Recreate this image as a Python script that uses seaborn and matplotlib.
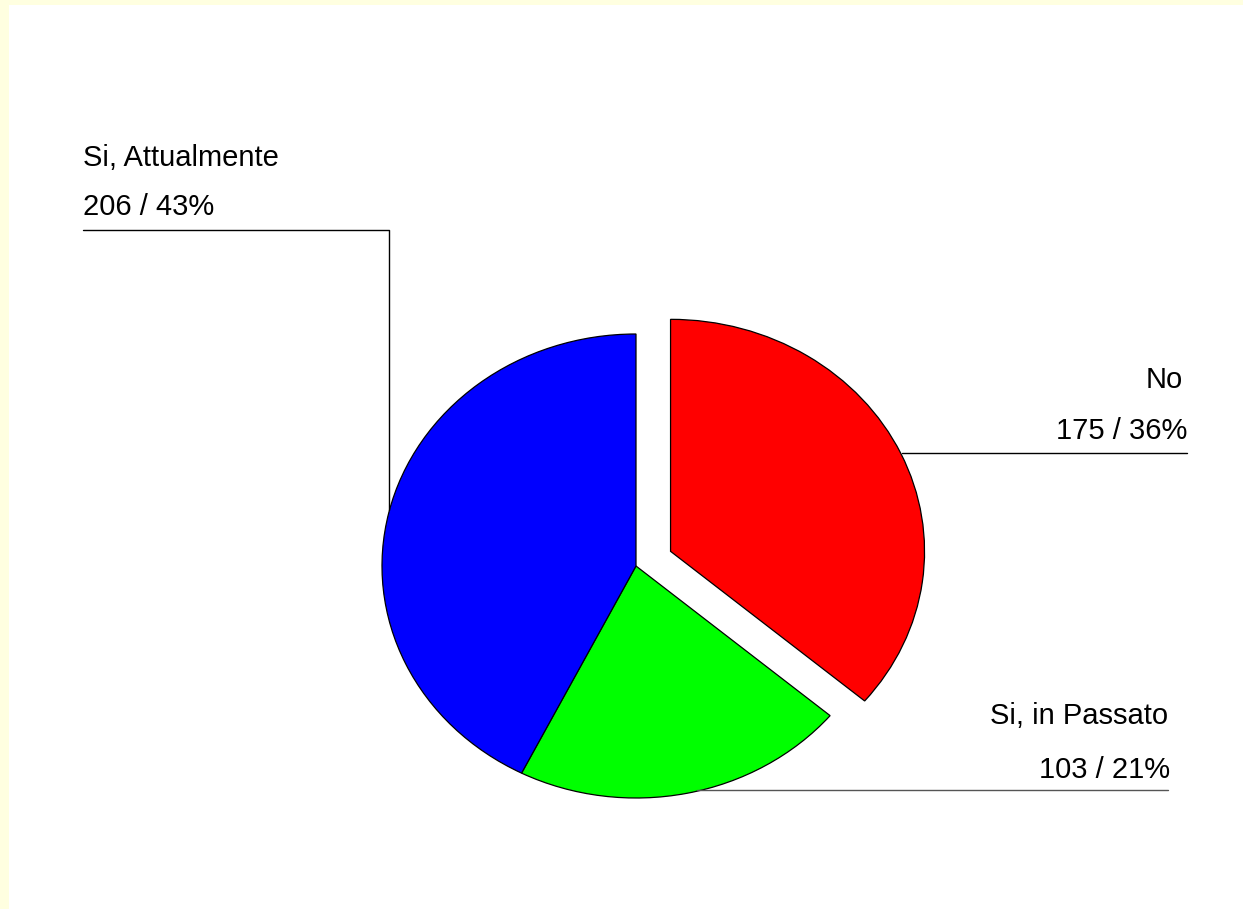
import matplotlib
matplotlib.use('Agg')
import matplotlib.pyplot as plt
from matplotlib.lines import Line2D
from matplotlib.patches import Rectangle
import seaborn as sns

# Data
categories = ['No', 'Si, in Passato', 'Si, Attualmente']
counts = [175, 103, 206]
percents = [36, 21, 43]
colors = ['#FF0000', '#00FF00', '#0000FF']
explode = [0.15, 0, 0]

sns.set_theme(style='white')
plt.rcParams['font.family'] = ['Liberation Sans', 'DejaVu Sans']
plt.rcParams['text.color'] = 'black'

W, H = 1243, 909
fig = plt.figure(figsize=(W / 100, H / 100), dpi=100)
fig.patch.set_facecolor('#FFFFE0')

# white plot area inside the pale yellow frame (left/top)
left_px, top_px = 9, 5
fig.patches.append(Rectangle((left_px / W, 0), 1 - left_px / W, 1 - top_px / H,
                             transform=fig.transFigure, facecolor='white',
                             edgecolor='none', zorder=-5))

ax = fig.add_axes([left_px / W, 0, 1 - left_px / W, 1 - top_px / H])
ax.pie(counts, colors=colors, explode=explode, startangle=90, counterclock=False,
       wedgeprops=dict(edgecolor='black', linewidth=0.9))

# slightly elliptical pie: separate x / y scale
cx, cy = 636, 566       # pie centre (px, from top-left)
rx, ry = 254, 232       # radii in px
aw, ah = W - left_px, H - top_px
ax.set_aspect('auto')
ax.set_xlim(-(cx - left_px) / rx, (aw - (cx - left_px)) / rx)
ax.set_ylim(-(H - cy) / ry, (ah - (H - cy)) / ry)
ax.axis('off')


def fx(x):
    return x / W


def fy(y):
    return 1 - y / H


fs = 21
# Si, Attualmente
fig.text(fx(83), fy(166), f'{categories[2]}', fontsize=fs, ha='left', va='baseline')
fig.text(fx(83), fy(215), f'{counts[2]} / {percents[2]}%', fontsize=fs, ha='left', va='baseline')
fig.add_artist(Line2D([fx(83), fx(388.5), fx(388.5)], [fy(229.5), fy(229.5), fy(510)],
                      color='black', linewidth=1, transform=fig.transFigure))

# No
fig.text(fx(1183), fy(388), f'{categories[0]}', fontsize=fs, ha='right', va='baseline')
fig.text(fx(1187), fy(439), f'{counts[0]} / {percents[0]}%', fontsize=fs, ha='right', va='baseline')
fig.add_artist(Line2D([fx(902), fx(1187)], [fy(452.5), fy(452.5)],
                      color='black', linewidth=1, transform=fig.transFigure))

# Si, in Passato
fig.text(fx(1168), fy(724), f'{categories[1]}', fontsize=fs, ha='right', va='baseline')
fig.text(fx(1170), fy(778), f'{counts[1]} / {percents[1]}%', fontsize=fs, ha='right', va='baseline')
fig.add_artist(Line2D([fx(697), fx(1168)], [fy(790), fy(790)],
                      color='#555555', linewidth=1, transform=fig.transFigure))

plt.savefig('out.png', dpi=100, facecolor=fig.get_facecolor())
